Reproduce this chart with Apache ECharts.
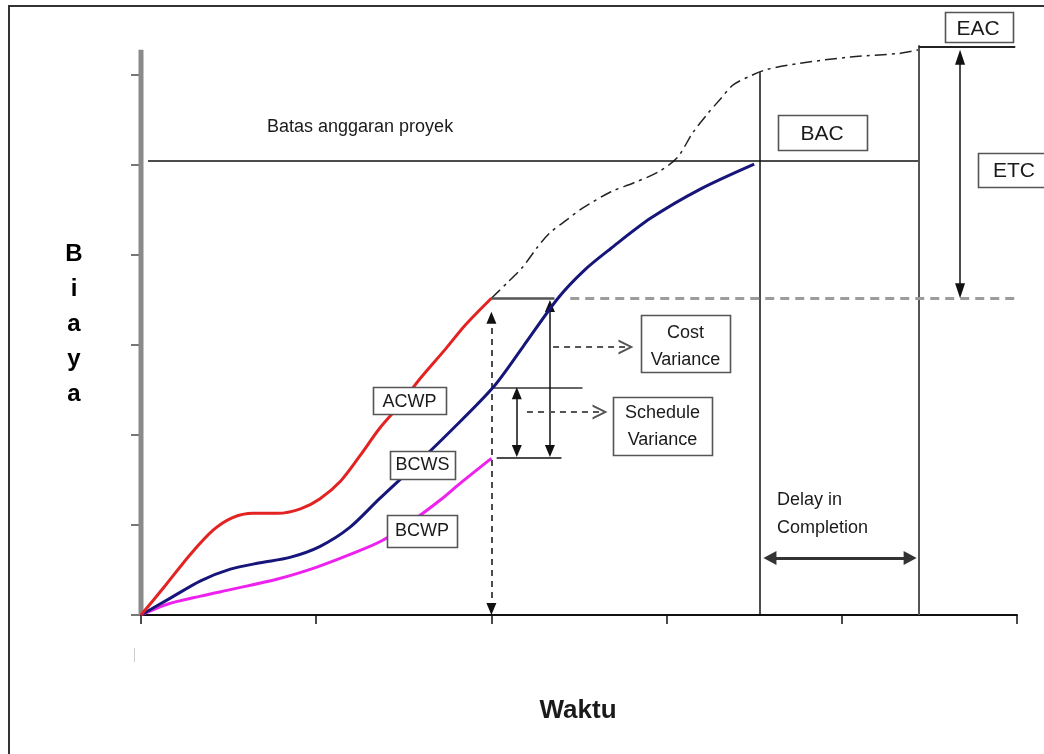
<!DOCTYPE html>
<html>
<head>
<meta charset="utf-8">
<script src="https://cdn.jsdelivr.net/npm/echarts@6/dist/echarts.min.js"></script>
<style>
    html, body { margin: 0; padding: 0; background: #fff; }
    #chart { width: 1044px; height: 754px; }
</style>
</head>
<body>
<div id="chart"></div>
<script>
// axis ticks (time units / cost units, no labels shown)
const timeTicks = [0, 1, 2, 3, 4, 5];
const costTicks = [0, 1, 2, 3, 4, 5, 6];
const costAxisTop = 6.28;

// ACWP - actual cost of work performed
const acwpTime = [0, 0.14, 0.28, 0.41, 0.52, 0.64, 0.78, 0.91, 1.02, 1.14, 1.25, 1.36, 1.48, 1.59, 1.74, 1.85, 2.0];
const acwpCost = [0, 0.33, 0.67, 0.94, 1.08, 1.13, 1.13, 1.18, 1.29, 1.49, 1.77, 2.07, 2.34, 2.62, 2.96, 3.22, 3.52];

// BCWS - planned value
const bcwsTime = [0, 0.17, 0.34, 0.51, 0.68, 0.85, 1.02, 1.19, 1.36, 1.58, 1.76, 2.01, 2.18, 2.38, 2.53, 2.68, 2.91, 3.19, 3.5];
const bcwsCost = [0, 0.19, 0.38, 0.51, 0.58, 0.64, 0.76, 0.97, 1.29, 1.69, 2.03, 2.53, 2.98, 3.52, 3.83, 4.07, 4.41, 4.73, 5.01];

// BCWP - earned value
const bcwpTime = [0, 0.15, 0.34, 0.53, 0.78, 1.0, 1.19, 1.38, 1.58, 1.71, 1.82, 2.0];
const bcwpCost = [0, 0.12, 0.21, 0.29, 0.40, 0.53, 0.67, 0.83, 1.09, 1.28, 1.46, 1.74];

// forecast of actual cost up to EAC
const eacTime = [2.0, 2.09, 2.18, 2.26, 2.33, 2.43, 2.52, 2.68, 2.81, 2.95, 3.06, 3.15, 3.23, 3.31, 3.38, 3.49, 3.57, 3.76, 4.05, 4.33, 4.44];
const eacCost = [3.52, 3.69, 3.87, 4.08, 4.24, 4.39, 4.52, 4.70, 4.80, 4.92, 5.08, 5.36, 5.56, 5.74, 5.89, 6.00, 6.06, 6.13, 6.20, 6.24, 6.28];

// key moments and levels
const statusTime = 2.0;
const plannedFinish = 3.53;
const forecastFinish = 4.44;
const bac = 5.05;
const eac = 6.31;
const acwpNow = 3.52;
const bcwsNow = 2.53;
const bcwpNow = 1.75;

const chart = echarts.init(document.getElementById('chart'));
const FONT = '"Liberation Sans", Arial, sans-serif';
const pairs = (xs, ys) => xs.map((x, i) => [x, ys[i]]);

const curve = (name, xs, ys, color, extra) => Object.assign({
    name: name,
    type: 'line',
    data: pairs(xs, ys),
    smooth: 0.3,
    symbol: 'none',
    silent: true,
    clip: false,
    z: 5,
    lineStyle: { color: color, width: 3 }
}, extra || {});

// one markLine segment, optional heads at each end
const seg = (x1, y1, x2, y2, style, head1, head2) => [
    { coord: [x1, y1], lineStyle: Object.assign({ type: 'solid' }, style), symbol: head1 ? head1.type : 'none', symbolSize: head1 ? head1.size : 0 },
    { coord: [x2, y2], symbol: head2 ? head2.type : 'none', symbolSize: head2 ? head2.size : 0 }
];

const solid = { color: '#111', width: 1.5 };
const dashed = { color: '#555', width: 2, type: [6, 5] };
const tri = { type: 'triangle', size: [10, 12] };
const triTall = { type: 'triangle', size: [10, 15] };
const triWide = { type: 'triangle', size: [14, 13] };
const chevron = { type: 'path://M0,16L8,0L16,16L13.6,16L8,4.6L2.4,16Z', size: [15, 15] };
const padY = 6 / 90;      // half arrow head, in cost units
const padX = 7 / 175.2;   // half arrow head, in time units

const guides = [
    seg(0.04, bac, forecastFinish, bac, solid),
    seg(plannedFinish, 0, plannedFinish, 6.03, solid),
    seg(forecastFinish, 0, forecastFinish, 6.33, { color: '#555', width: 2 }),
    seg(forecastFinish, eac, 4.99, eac, { color: '#222', width: 2 }),
    seg(2.45, acwpNow, 5.0, acwpNow, { color: '#9c9c9c', width: 3, type: [9, 6] }),
    seg(statusTime, acwpNow, 2.36, acwpNow, { color: '#555', width: 2.5 }),
    seg(statusTime, bcwsNow, 2.52, bcwsNow, { color: '#333', width: 1.5 }),
    seg(2.03, bcwpNow, 2.40, bcwpNow, solid),
    // status date
    seg(statusTime, 0 + padY, statusTime, 3.37 - padY, { color: '#111', width: 1.5, type: [6, 5] }, tri, tri),
    // cost variance
    seg(2.334, 3.5 - padY, 2.334, 1.756 + padY, solid, tri, tri),
    // schedule variance
    seg(2.145, 2.53 - padY, 2.145, 1.756 + padY, solid, tri, tri),
    // ETC
    seg(4.675, 6.28 - 7.5 / 90, 4.675, 3.52 + 7.5 / 90, solid, triTall, triTall),
    // delay in completion
    seg(3.55 + padX, 0.633, 4.43 - padX, 0.633, { color: '#333', width: 3 }, triWide, triWide),
    // pointers to the variance boxes
    seg(2.352, 2.978, 2.808 - padX, 2.978, dashed, null, chevron),
    seg(2.203, 2.256, 2.66 - padX, 2.256, dashed, null, chevron)
];

const box = (x, y, w, h) => ({
    type: 'rect', z: 100, silent: true,
    shape: { x: x + 0.5, y: y + 0.5, width: w, height: h },
    style: { fill: '#fff', stroke: '#555', lineWidth: 1.6 }
});
const label = (x, y, text, size, align, weight) => ({
    type: 'text', z: 101, silent: true, x: x, y: y,
    style: {
        text: text,
        font: (weight || 'normal') + ' ' + size + 'px ' + FONT,
        fill: '#1a1a1a',
        align: align || 'center', textAlign: align || 'center',
        verticalAlign: 'middle', textVerticalAlign: 'middle'
    }
});

const option = {
    animation: false,
    backgroundColor: '#fff',
    grid: { left: 141, right: 27, top: 12, bottom: 139, containLabel: false, outerBoundsMode: 'none' },
    xAxis: {
        type: 'value', min: timeTicks[0], max: timeTicks[timeTicks.length - 1], interval: 1,
        axisLine: { show: true, lineStyle: { color: '#111', width: 2 } },
        axisTick: { show: true, length: 9, lineStyle: { color: '#111', width: 1.5 } },
        axisLabel: { show: false },
        splitLine: { show: false }
    },
    yAxis: {
        type: 'value', min: 0, max: 6.7, interval: 1,
        axisLine: { show: false },
        axisTick: { show: true, customValues: costTicks, length: 10, lineStyle: { color: '#777', width: 2 } },
        axisLabel: { show: false },
        splitLine: { show: false }
    },
    series: [
        {
            name: 'axis', type: 'line', silent: true, symbol: 'none', z: 1,
            data: [[0, 0], [0, costAxisTop]],
            lineStyle: { color: '#8a8a8a', width: 5 }
        },
        {
            name: 'guides', type: 'line', data: [], silent: true, clip: false, z: 3,
            markLine: {
                silent: true, animation: false, symbol: ['none', 'none'],
                label: { show: false }, emphasis: { disabled: true },
                data: guides
            }
        },
        curve('EAC', eacTime, eacCost, '#222', { lineStyle: { color: '#222', width: 1.5, type: [12, 5, 3, 5] }, z: 4 }),
        curve('BCWP', bcwpTime, bcwpCost, '#ee22ee'),
        curve('BCWS', bcwsTime, bcwsCost, '#16167a'),
        curve('ACWP', acwpTime, acwpCost, '#e32222')
    ],
    graphic: [
        { type: 'rect', silent: true, z: 0, shape: { x: 9, y: 6, width: 1060, height: 780 }, style: { fill: 'none', stroke: '#333', lineWidth: 2 } },
        { type: 'line', silent: true, z: 0, shape: { x1: 134.5, y1: 648, x2: 134.5, y2: 662 }, style: { stroke: '#ccc', lineWidth: 1 } },

        label(267, 127, 'Batas anggaran proyek', 18, 'left'),

        box(373, 387, 73, 27), label(409.5, 402, 'ACWP', 18),
        box(390, 451, 65, 28), label(422.5, 465, 'BCWS', 18),
        box(387, 515, 70, 32), label(422, 531, 'BCWP', 18),

        box(641, 315, 89, 57), label(685.5, 333, 'Cost', 18), label(685.5, 360, 'Variance', 18),
        box(613, 397, 99, 58), label(662.5, 413, 'Schedule', 18), label(662.5, 440, 'Variance', 18),

        box(778, 115, 89, 35), label(822, 134, 'BAC', 21),
        box(945, 12, 68, 30), label(978, 29, 'EAC', 21),
        box(978, 153, 90, 34), label(993, 171, 'ETC', 21, 'left'),

        label(777, 500, 'Delay in', 18, 'left'),
        label(777, 528, 'Completion', 18, 'left'),

        {
            type: 'text', z: 101, silent: true, x: 74, y: 324,
            style: {
                text: 'B\ni\na\ny\na', font: 'bold 24px ' + FONT, lineHeight: 35, fill: '#000',
                align: 'center', textAlign: 'center', verticalAlign: 'middle', textVerticalAlign: 'middle'
            }
        },
        label(578, 711, 'Waktu', 26, 'center', 'bold')
    ]
};

chart.setOption(option);
</script>
</body>
</html>
